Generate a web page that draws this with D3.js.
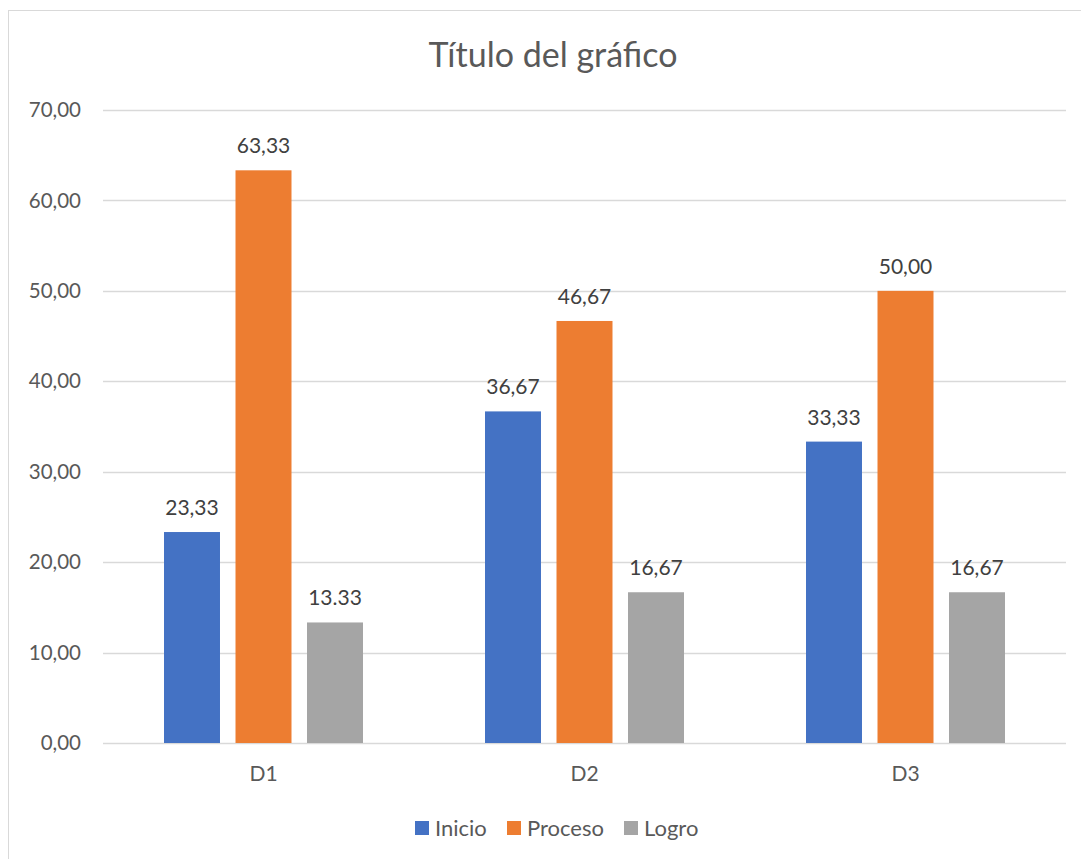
<!DOCTYPE html>
<html><head><meta charset="utf-8">
<script src="https://cdn.jsdelivr.net/npm/d3@7"></script>
<style>body{margin:0;background:#fff;}text{font-family:Lato,"Open Sans",sans-serif;}</style>
</head><body><svg id="c" width="1081" height="859"></svg>
<script>
const categories = ["D1","D2","D3"];
const seriesNames = ["Inicio","Proceso","Logro"];
const inicio = [23.33, 36.67, 33.33];
const proceso = [63.33, 46.67, 50.00];
const logro = [13.33, 16.67, 16.67];
const inicioLabels = ["23,33","36,67","33,33"];
const procesoLabels = ["63,33","46,67","50,00"];
const logroLabels = ["13.33","16,67","16,67"];
const yTicks = [0,10,20,30,40,50,60,70];
const yTickLabels = ["0,00","10,00","20,00","30,00","40,00","50,00","60,00","70,00"];
const colors = ["#4472C4","#ED7D31","#A5A5A5"];

const series = [
  {name: seriesNames[0], values: inicio, labels: inicioLabels},
  {name: seriesNames[1], values: proceso, labels: procesoLabels},
  {name: seriesNames[2], values: logro, labels: logroLabels}
];

const svg = d3.select("#c");
svg.append("rect").attr("x",8.5).attr("y",10.5).attr("width",1090).attr("height",870)
  .attr("fill","#fff").attr("stroke","#D9D9D9").attr("stroke-width",1);

const pLeft = 103, pRight = 1066, pTop = 110, pBottom = 743;
const y = d3.scaleLinear().domain([0,70]).range([pBottom, pTop]);
const x0 = d3.scaleBand().domain(categories).range([pLeft, pRight]).padding(0);
const groupW = 199;
const x1 = d3.scaleBand().domain(seriesNames).range([0, groupW]).paddingInner(0.217).paddingOuter(0);

// gridlines
svg.append("g").selectAll("line").data(yTicks).join("line")
  .attr("x1", pLeft).attr("x2", pRight)
  .attr("y1", d => Math.round(y(d))+0.5).attr("y2", d => Math.round(y(d))+0.5)
  .attr("stroke","#D9D9D9").attr("stroke-width",1.3);

// y tick labels
svg.append("g").selectAll("text").data(yTicks).join("text")
  .attr("x", 81).attr("y", d => y(d)).attr("dy","0.35em")
  .attr("text-anchor","end").attr("font-size",20.5).attr("fill","#595959")
  .text((d,i) => yTickLabels[i]);

// bars
const groups = svg.append("g").selectAll("g").data(series).join("g")
  .attr("fill", (d,i) => colors[i]);
groups.selectAll("rect").data(s => s.values.map((v,i) => ({v, c: categories[i], s: s.name}))).join("rect")
  .attr("x", d => x0(d.c) + (x0.bandwidth()-groupW)/2 + x1(d.s))
  .attr("width", x1.bandwidth())
  .attr("y", d => y(d.v))
  .attr("height", d => y(0) - y(d.v));

// data labels
const lg = svg.append("g");
series.forEach(s => {
  lg.selectAll(null).data(s.values.map((v,i) => ({v, c: categories[i], s: s.name, l: s.labels[i]}))).join("text")
    .attr("x", d => x0(d.c) + (x0.bandwidth()-groupW)/2 + x1(d.s) + x1.bandwidth()/2)
    .attr("y", d => y(d.v) - 17)
    .attr("text-anchor","middle").attr("font-size",21).attr("fill","#404040")
    .text(d => d.l);
});

// x axis labels
svg.append("g").selectAll("text").data(categories).join("text")
  .attr("x", d => x0(d) + x0.bandwidth()/2).attr("y", 781)
  .attr("text-anchor","middle").attr("font-size",21).attr("fill","#595959")
  .text(d => d);

// title
svg.append("text").attr("x", 553).attr("y", 67).attr("text-anchor","middle")
  .attr("font-size",34).attr("fill","#595959").text("Título del gráfico");

// legend
const legendX = [415, 507, 624];
const leg = svg.append("g").selectAll("g").data(seriesNames).join("g")
  .attr("transform", (d,i) => `translate(${legendX[i]},821)`);
leg.append("rect").attr("width",14).attr("height",14).attr("fill", (d,i) => colors[i]);
leg.append("text").attr("x", 20).attr("y", 14.5).attr("font-size",22).attr("fill","#595959").text(d => d);
</script></body></html>
